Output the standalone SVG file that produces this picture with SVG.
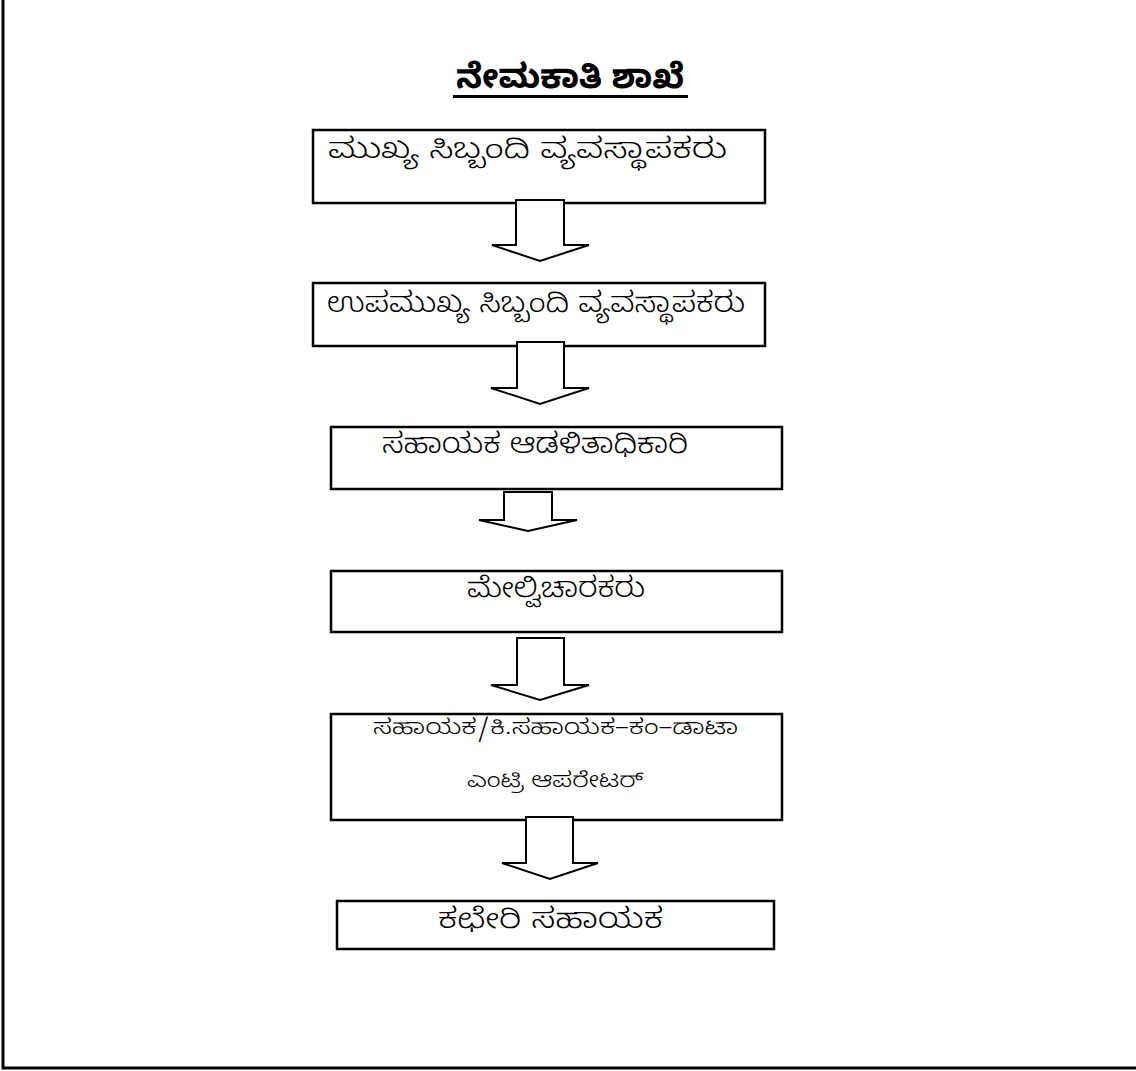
<svg xmlns="http://www.w3.org/2000/svg" width="1136" height="1071" viewBox="0 0 1136 1071">
<style>
.box{fill:#fff;stroke:#000;stroke-width:2.5}
.arr{fill:#fff;stroke:#000;stroke-width:2;stroke-linejoin:miter}
.t{font-family:"Noto Sans Kannada","Tunga","Noto Sans","DejaVu Sans",sans-serif;fill:#000}
.title{font-weight:bold;font-size:34px}
.lbl{font-size:28px;font-weight:300}
.sm{font-size:21px;font-weight:300}
</style>
<rect width="1136" height="1071" fill="#fff"/>
<polyline points="3,0 3,1068 1136,1068" fill="none" stroke="#000" stroke-width="3"/>
<g id="title">
<text class="t title" x="570" y="88" text-anchor="middle">ನೇಮಕಾತಿ ಶಾಖೆ</text>
<rect x="453" y="95" width="235" height="3" fill="#000"/>
</g>
<g id="n1"><rect class="box" x="313" y="130" width="452" height="73"/>
<text class="t lbl" x="328" y="158" textLength="399" lengthAdjust="spacingAndGlyphs">ಮುಖ್ಯ ಸಿಬ್ಬಂದಿ ವ್ಯವಸ್ಥಾಪಕರು</text></g>
<g id="n2"><rect class="box" x="313" y="283" width="452" height="63"/>
<text class="t lbl" x="327" y="312" textLength="418" lengthAdjust="spacingAndGlyphs">ಉಪಮುಖ್ಯ ಸಿಬ್ಬಂದಿ ವ್ಯವಸ್ಥಾಪಕರು</text></g>
<g id="n3"><rect class="box" x="331" y="427" width="451" height="62"/>
<text class="t lbl" x="382" y="453" textLength="306" lengthAdjust="spacingAndGlyphs">ಸಹಾಯಕ ಆಡಳಿತಾಧಿಕಾರಿ</text></g>
<g id="n4"><rect class="box" x="331" y="571" width="451" height="61"/>
<text class="t lbl" x="467" y="597" textLength="178" lengthAdjust="spacingAndGlyphs">ಮೇಲ್ವಿಚಾರಕರು</text></g>
<g id="n5"><rect class="box" x="331" y="714" width="451" height="106"/>
<text class="t sm" x="373" y="734" textLength="365" lengthAdjust="spacingAndGlyphs">ಸಹಾಯಕ/ಕಿ.ಸಹಾಯಕ–ಕಂ–ಡಾಟಾ</text>
<text class="t sm" x="467" y="787" textLength="176" lengthAdjust="spacingAndGlyphs">ಎಂಟ್ರಿ ಆಪರೇಟರ್</text></g>
<g id="n6"><rect class="box" x="337" y="901" width="437" height="48"/>
<text class="t lbl" x="438" y="928" textLength="225" lengthAdjust="spacingAndGlyphs">ಕಛೇರಿ ಸಹಾಯಕ</text></g>
<g id="connectors">
<polygon class="arr" points="516,200 564,200 564,245 589,245 540,261 492,245 516,245"/>
<polygon class="arr" points="517,342 564,342 564,388 589,388 540,404 491,388 517,388"/>
<polygon class="arr" points="504,492 552,492 552,520 577,520 528,531 479,520 504,520"/>
<polygon class="arr" points="517,638 564,638 564,685 589,685 540,700 491,685 517,685"/>
<polygon class="arr" points="526,817 573,817 573,863 598,863 550,879 502,863 526,863"/>
</g>
</svg>
